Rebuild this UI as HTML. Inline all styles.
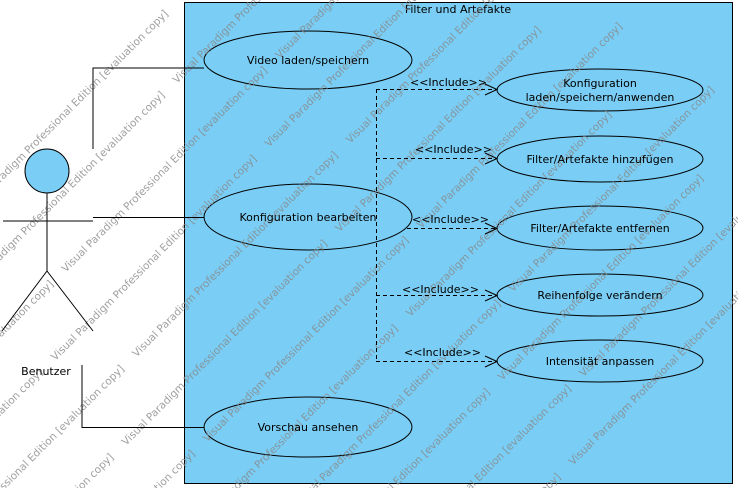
<!DOCTYPE html>
<html><head><meta charset="utf-8"><style>
html,body{margin:0;padding:0;background:#fff;width:738px;height:488px;overflow:hidden;}
svg{display:block;}
text{font-family:"DejaVu Sans","Liberation Sans",sans-serif;}
.wm text{white-space:pre;}
</style></head><body>
<svg width="738" height="488" viewBox="0 0 738 488" xmlns="http://www.w3.org/2000/svg">
<rect x="184.5" y="2.5" width="548" height="481" fill="#7acdf4" stroke="#000" stroke-width="1"/>
<text x="458" y="13" font-size="11" text-anchor="middle">Filter und Artefakte</text>

<g fill="#7acdf4" stroke="#000" stroke-width="1">
<ellipse cx="308" cy="60" rx="104" ry="29"/>
<ellipse cx="308" cy="217" rx="104" ry="33"/>
<ellipse cx="308" cy="427" rx="104" ry="30"/>
<ellipse cx="600" cy="90" rx="103" ry="21"/>
<ellipse cx="600" cy="159" rx="103" ry="23"/>
<ellipse cx="600" cy="228" rx="103" ry="22"/>
<ellipse cx="600" cy="295" rx="103" ry="21"/>
<ellipse cx="600" cy="361" rx="103" ry="21"/>
</g>

<!-- watermark -->
<g class="wm" font-size="10.5" fill="#888" opacity="0.8">
<g transform="rotate(-45 369 244)">
<text x="-500" y="-60" xml:space="preserve">Visual Paradigm Professional Edition [evaluation copy]     Visual Paradigm Professional Edition [evaluation copy]     Visual Paradigm Professional Edition [evaluation copy]     Visual Paradigm Professional Edition [evaluation copy]</text>
<text x="-560" y="-5" xml:space="preserve">Visual Paradigm Professional Edition [evaluation copy]     Visual Paradigm Professional Edition [evaluation copy]     Visual Paradigm Professional Edition [evaluation copy]     Visual Paradigm Professional Edition [evaluation copy]</text>
<text x="-470" y="50" xml:space="preserve">Visual Paradigm Professional Edition [evaluation copy]     Visual Paradigm Professional Edition [evaluation copy]     Visual Paradigm Professional Edition [evaluation copy]     Visual Paradigm Professional Edition [evaluation copy]</text>
<text x="-540" y="105" xml:space="preserve">Visual Paradigm Professional Edition [evaluation copy]     Visual Paradigm Professional Edition [evaluation copy]     Visual Paradigm Professional Edition [evaluation copy]     Visual Paradigm Professional Edition [evaluation copy]</text>
<text x="-480" y="160" xml:space="preserve">Visual Paradigm Professional Edition [evaluation copy]     Visual Paradigm Professional Edition [evaluation copy]     Visual Paradigm Professional Edition [evaluation copy]     Visual Paradigm Professional Edition [evaluation copy]</text>
<text x="-550" y="215" xml:space="preserve">Visual Paradigm Professional Edition [evaluation copy]     Visual Paradigm Professional Edition [evaluation copy]     Visual Paradigm Professional Edition [evaluation copy]     Visual Paradigm Professional Edition [evaluation copy]</text>
<text x="-490" y="270" xml:space="preserve">Visual Paradigm Professional Edition [evaluation copy]     Visual Paradigm Professional Edition [evaluation copy]     Visual Paradigm Professional Edition [evaluation copy]     Visual Paradigm Professional Edition [evaluation copy]</text>
<text x="-560" y="325" xml:space="preserve">Visual Paradigm Professional Edition [evaluation copy]     Visual Paradigm Professional Edition [evaluation copy]     Visual Paradigm Professional Edition [evaluation copy]     Visual Paradigm Professional Edition [evaluation copy]</text>
<text x="-470" y="380" xml:space="preserve">Visual Paradigm Professional Edition [evaluation copy]     Visual Paradigm Professional Edition [evaluation copy]     Visual Paradigm Professional Edition [evaluation copy]     Visual Paradigm Professional Edition [evaluation copy]</text>
<text x="-540" y="435" xml:space="preserve">Visual Paradigm Professional Edition [evaluation copy]     Visual Paradigm Professional Edition [evaluation copy]     Visual Paradigm Professional Edition [evaluation copy]     Visual Paradigm Professional Edition [evaluation copy]</text>
<text x="-480" y="490" xml:space="preserve">Visual Paradigm Professional Edition [evaluation copy]     Visual Paradigm Professional Edition [evaluation copy]     Visual Paradigm Professional Edition [evaluation copy]     Visual Paradigm Professional Edition [evaluation copy]</text>
<text x="-550" y="545" xml:space="preserve">Visual Paradigm Professional Edition [evaluation copy]     Visual Paradigm Professional Edition [evaluation copy]     Visual Paradigm Professional Edition [evaluation copy]     Visual Paradigm Professional Edition [evaluation copy]</text>
</g>
</g>

<g font-size="11" text-anchor="middle" fill="#000">
<text x="308" y="64">Video laden/speichern</text>
<text x="308" y="221">Konfiguration bearbeiten</text>
<text x="308" y="431">Vorschau ansehen</text>
<text x="600" y="87">Konfiguration</text>
<text x="600" y="101">laden/speichern/anwenden</text>
<text x="600" y="163">Filter/Artefakte hinzufügen</text>
<text x="600" y="232">Filter/Artefakte entfernen</text>
<text x="600" y="299">Reihenfolge verändern</text>
<text x="600" y="365">Intensität anpassen</text>
</g>

<!-- actor -->
<g stroke="#000" stroke-width="1" fill="none">
<circle cx="47" cy="171" r="22" fill="#7acdf4"/>
<line x1="47" y1="193" x2="47" y2="271"/>
<line x1="3" y1="221" x2="93" y2="221"/>
<line x1="47" y1="271" x2="2" y2="331"/>
<line x1="47" y1="271" x2="93" y2="331"/>
<polyline points="93,149 93,68 204,68"/>
<line x1="93" y1="217.5" x2="204" y2="217.5"/>
<polyline points="82,365 82,427.5 204,427.5"/>
</g>
<text x="46" y="375" font-size="11" text-anchor="middle">Benutzer</text>

<!-- includes -->
<g stroke="#000" stroke-width="1" fill="none" stroke-dasharray="4,3">
<line x1="376.5" y1="89" x2="376.5" y2="361"/>
<line x1="376" y1="89.5" x2="497" y2="89.5"/>
<line x1="376" y1="158.5" x2="497" y2="158.5"/>
<line x1="407" y1="228.5" x2="497" y2="228.5"/>
<line x1="376" y1="295.5" x2="497" y2="295.5"/>
<line x1="376" y1="361.5" x2="497" y2="361.5"/>
</g>
<g stroke="#000" stroke-width="1" fill="none">
<polyline points="485,84 497,89.5 485,95"/>
<polyline points="485,153 497,158.5 485,164"/>
<polyline points="485,223 497,228.5 485,234"/>
<polyline points="485,290 497,295.5 485,301"/>
<polyline points="485,356 497,361.5 485,367"/>
</g>
<g font-size="11" fill="#000">
<text x="410" y="86">&lt;&lt;Include&gt;&gt;</text>
<text x="415" y="153">&lt;&lt;Include&gt;&gt;</text>
<text x="412" y="223">&lt;&lt;Include&gt;&gt;</text>
<text x="402" y="293">&lt;&lt;Include&gt;&gt;</text>
<text x="404" y="356">&lt;&lt;Include&gt;&gt;</text>
</g>
</svg>
</body></html>
